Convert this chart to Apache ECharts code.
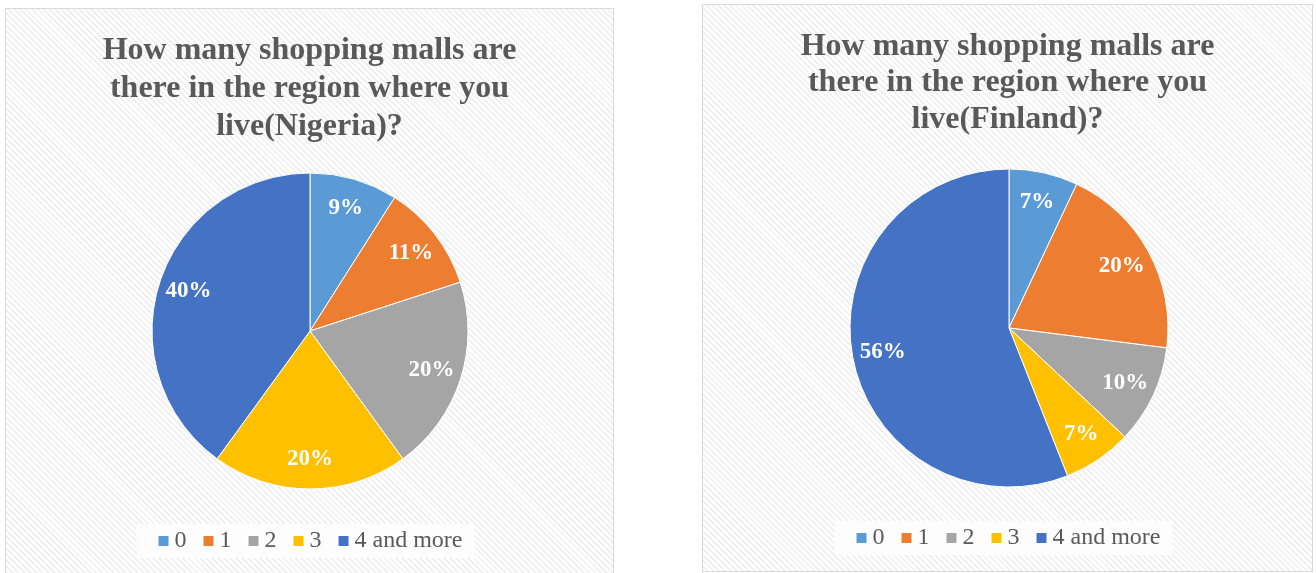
<!DOCTYPE html>
<html><head><meta charset="utf-8">
<script src="https://cdn.jsdelivr.net/npm/echarts@6/dist/echarts.min.js"></script>
<style>
html,body{margin:0;padding:0;background:#fff;width:1316px;height:573px;overflow:hidden;}
.panel{position:absolute;box-sizing:border-box;border:1.5px solid #d9d9d9;
background:repeating-linear-gradient(45deg,#ffffff 0px,#ffffff 2.2px,#f1f1f1 2.2px,#f1f1f1 4.2px);}
.chart{position:absolute;left:0;top:0;width:100%;height:100%;}
</style></head>
<body>
<div class="panel" id="p1" style="left:5px;top:8px;width:609px;height:575px;"><div class="chart" id="c1"></div></div>
<div class="panel" id="p2" style="left:702px;top:4px;width:611px;height:568px;"><div class="chart" id="c2"></div></div>
<script>
const categories = ['0', '1', '2', '3', '4 and more'];
const nigeriaValues = [9, 11, 20, 20, 40];
const finlandValues = [7, 20, 10, 7, 56];
const titles = ['How many shopping malls are\nthere in the region where you\nlive(Nigeria)?',
                'How many shopping malls are\nthere in the region where you\nlive(Finland)?'];
const colors = ['#5B9BD5', '#ED7D31', '#A5A5A5', '#FFC000', '#4472C4'];
const serif = '"Liberation Serif", "Times New Roman", serif';

function build(el, title, values, cfg) {
  const chart = echarts.init(document.getElementById(el), null, {renderer: 'canvas'});
  const data = categories.map((c, i) => ({name: c, value: values[i]}));
  chart.setOption({
    animation: false,
    backgroundColor: 'transparent',
    color: colors,
    title: {
      text: title, left: 'center', top: cfg.titleTop,
      textStyle: {fontFamily: serif, fontWeight: 'bold', fontSize: 32, color: '#595959', lineHeight: cfg.lineH}
    },
    legend: {
      data: categories, left: 'center', top: cfg.legendTop,
      itemWidth: 12, itemHeight: 12, itemGap: 15, icon: 'rect',
      backgroundColor: '#fdfdfd', padding: [5, 12, 5, 20],
      textStyle: {fontFamily: serif, fontSize: 24, color: '#595959'}
    },
    series: [
      {
        type: 'pie', center: cfg.center, radius: [0, cfg.r],
        startAngle: 90, clockwise: true, data: data,
        itemStyle: {borderColor: '#fff', borderWidth: 1},
        label: {show: false}, labelLine: {show: false}, silent: true
      },
      {
        type: 'pie', center: cfg.center, radius: [cfg.r * 0.58, cfg.r * 1.0],
        startAngle: 90, clockwise: true, data: data,
        itemStyle: {color: 'rgba(0,0,0,0)', borderWidth: 0},
        label: {show: true, position: 'inside', formatter: '{c}%', color: '#fff',
                fontFamily: serif, fontWeight: 'bold', fontSize: 23},
        labelLine: {show: false}, silent: true, legendHoverLink: false
      }
    ]
  });
}

build('c1', titles[0], nigeriaValues, {titleTop: 18, lineH: 38, legendTop: 515, center: [304, 322], r: 158});
build('c2', titles[1], finlandValues, {titleTop: 18, lineH: 36.5, legendTop: 516, center: [306, 323], r: 159});
</script>
</body></html>
